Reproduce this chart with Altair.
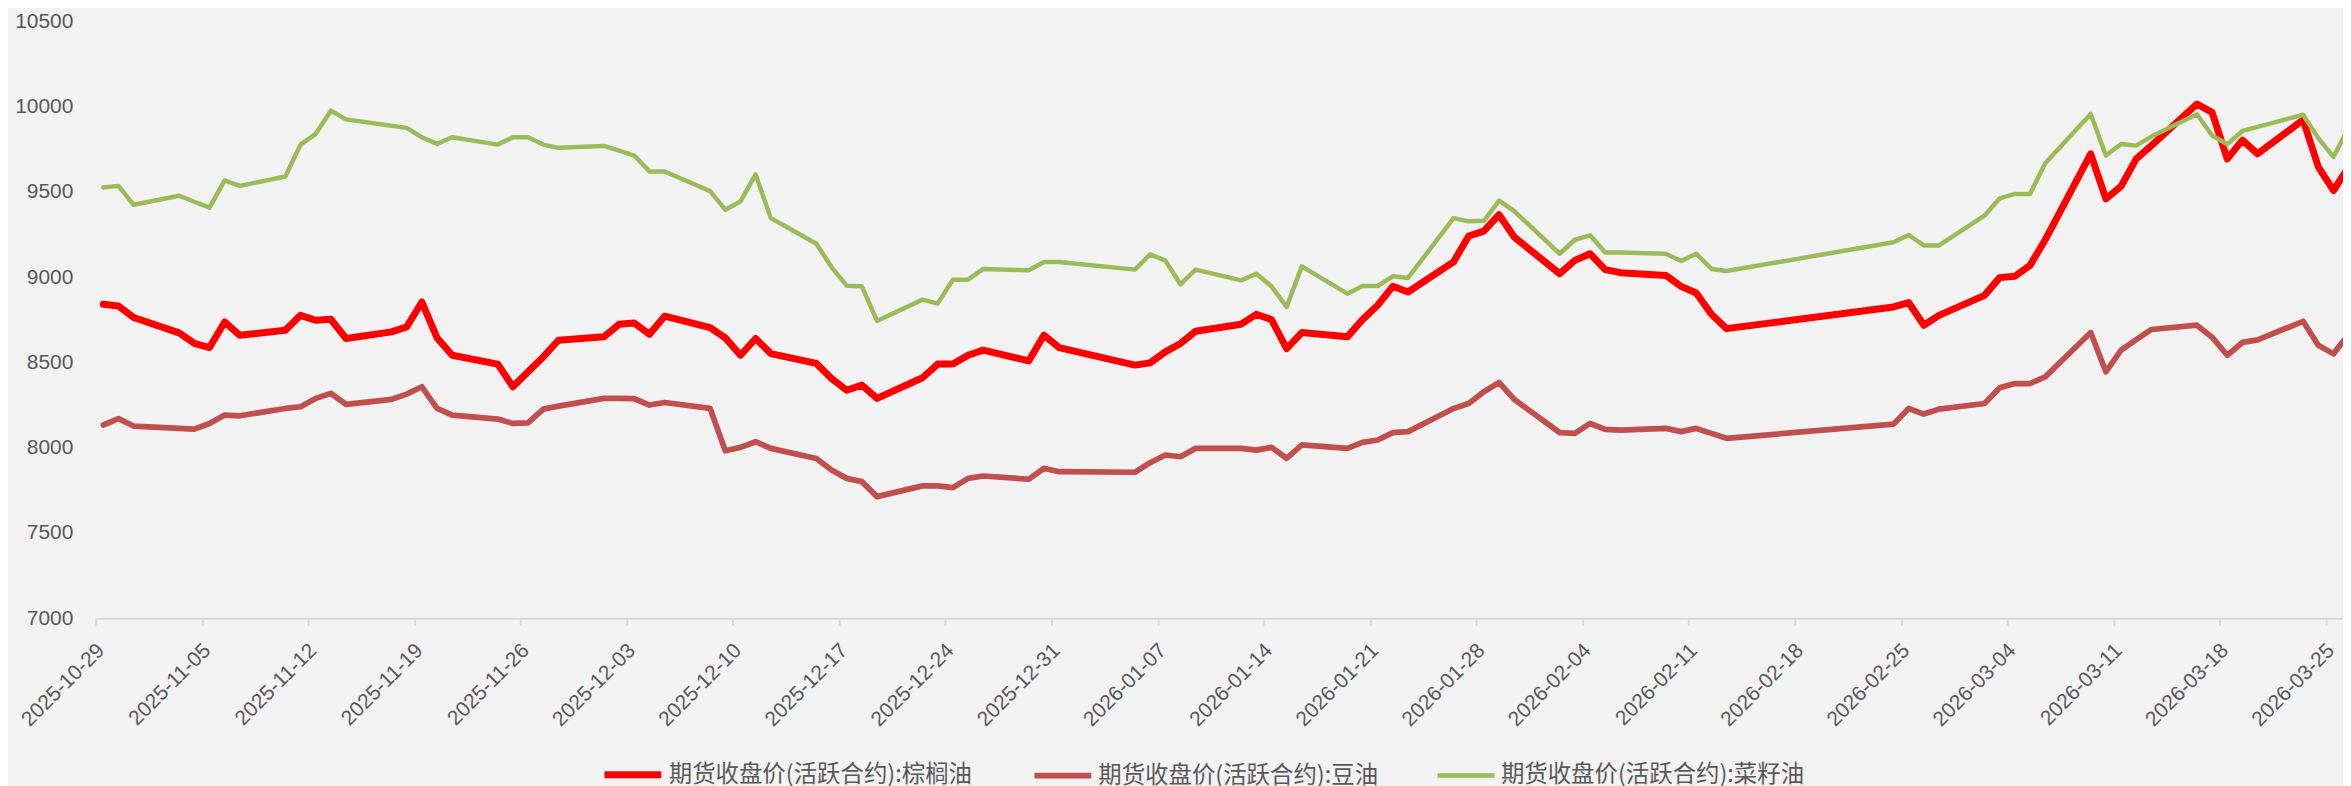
import altair as alt
import pandas as pd

# ---- data ----
dates = [
    "2025-10-29", "2025-10-30", "2025-10-31",
    "2025-11-03", "2025-11-04", "2025-11-05", "2025-11-06", "2025-11-07",
    "2025-11-10", "2025-11-11", "2025-11-12", "2025-11-13", "2025-11-14",
    "2025-11-17", "2025-11-18", "2025-11-19", "2025-11-20", "2025-11-21",
    "2025-11-24", "2025-11-25", "2025-11-26", "2025-11-27", "2025-11-28",
    "2025-12-01", "2025-12-02", "2025-12-03", "2025-12-04", "2025-12-05",
    "2025-12-08", "2025-12-09", "2025-12-10", "2025-12-11", "2025-12-12",
    "2025-12-15", "2025-12-16", "2025-12-17", "2025-12-18", "2025-12-19",
    "2025-12-22", "2025-12-23", "2025-12-24", "2025-12-25", "2025-12-26",
    "2025-12-29", "2025-12-30", "2025-12-31",
    "2026-01-05", "2026-01-06", "2026-01-07", "2026-01-08", "2026-01-09",
    "2026-01-12", "2026-01-13", "2026-01-14", "2026-01-15", "2026-01-16",
    "2026-01-19", "2026-01-20", "2026-01-21", "2026-01-22", "2026-01-23",
    "2026-01-26", "2026-01-27", "2026-01-28", "2026-01-29", "2026-01-30",
    "2026-02-02", "2026-02-03", "2026-02-04", "2026-02-05", "2026-02-06",
    "2026-02-09", "2026-02-10", "2026-02-11", "2026-02-12", "2026-02-13",
    "2026-02-24", "2026-02-25", "2026-02-26", "2026-02-27",
    "2026-03-02", "2026-03-03", "2026-03-04", "2026-03-05", "2026-03-06",
    "2026-03-09", "2026-03-10", "2026-03-11", "2026-03-12", "2026-03-13",
    "2026-03-16", "2026-03-17", "2026-03-18", "2026-03-19", "2026-03-20",
    "2026-03-23", "2026-03-24", "2026-03-25", "2026-03-26",
]

palm_oil = [
    8841, 8831, 8763,
    8673, 8611, 8587, 8737, 8659,
    8689, 8776, 8747, 8753, 8640,
    8679, 8708, 8854, 8644, 8542,
    8490, 8357, 8445, 8532, 8630,
    8650, 8724, 8731, 8665, 8771,
    8704, 8644, 8542, 8640, 8552,
    8494, 8406, 8337, 8367, 8289,
    8410, 8490, 8490, 8542, 8572,
    8509, 8659, 8587,
    8484, 8497, 8562, 8611, 8683,
    8724, 8782, 8751, 8581, 8675,
    8650, 8751, 8835, 8946, 8913,
    9089, 9241, 9270, 9366, 9235,
    9020, 9098, 9137, 9044, 9026,
    9010, 8946, 8907, 8782, 8698,
    8825, 8851, 8718, 8776,
    8893, 8997, 9005, 9069, 9219,
    9723, 9459, 9533, 9693, 9771,
    10015, 9966, 9693, 9803, 9723,
    9922, 9647, 9508, 9645,
]

soybean_oil = [
    8133, 8170, 8127,
    8113, 8109, 8142, 8191, 8187,
    8230, 8240, 8289, 8318, 8254,
    8283, 8314, 8357, 8230, 8191,
    8168, 8142, 8146, 8226, 8244,
    8289, 8289, 8287, 8250, 8265,
    8230, 7982, 8002, 8035, 7996,
    7937, 7869, 7820, 7801, 7713,
    7776, 7776, 7766, 7820, 7834,
    7815, 7879, 7859,
    7856, 7912, 7957, 7947, 7996,
    7996, 7986, 8002, 7937, 8016,
    7996, 8031, 8045, 8088, 8094,
    8230, 8259, 8328, 8382, 8283,
    8088, 8084, 8142, 8107, 8103,
    8113, 8094, 8113, 8084, 8055,
    8138, 8230, 8197, 8226,
    8259, 8351, 8376, 8376, 8415,
    8675, 8445, 8572, 8634, 8693,
    8718, 8648, 8542, 8617, 8632,
    8741, 8601, 8550, 8665,
]

rapeseed_oil = [
    9526, 9535, 9424,
    9477, 9442, 9407, 9567, 9535,
    9590, 9777, 9840, 9976, 9925,
    9888, 9875, 9820, 9781, 9820,
    9777, 9820, 9820, 9777, 9758,
    9769, 9742, 9713, 9619, 9619,
    9504, 9395, 9444, 9602, 9346,
    9196, 9059, 8950, 8946, 8743,
    8868, 8845, 8985, 8985, 9048,
    9040, 9089, 9089,
    9044, 9133, 9098, 8958, 9044,
    8981, 9020, 8946, 8825, 9063,
    8903, 8948, 8948, 9005, 8995,
    9346, 9327, 9330, 9449, 9387,
    9137, 9219, 9245, 9145, 9145,
    9137, 9094, 9137, 9048, 9036,
    9204, 9247, 9186, 9186,
    9360, 9462, 9488, 9488, 9668,
    9957, 9713, 9781, 9771, 9824,
    9955, 9830, 9779, 9857, 9881,
    9952, 9815, 9705, 9875,
]

series_names = [
    "期货收盘价(活跃合约):棕榈油",
    "期货收盘价(活跃合约):豆油",
    "期货收盘价(活跃合约):菜籽油",
]

tick_dates = [
    "2025-10-29", "2025-11-05", "2025-11-12", "2025-11-19", "2025-11-26",
    "2025-12-03", "2025-12-10", "2025-12-17", "2025-12-24", "2025-12-31",
    "2026-01-07", "2026-01-14", "2026-01-21", "2026-01-28", "2026-02-04",
    "2026-02-11", "2026-02-18", "2026-02-25", "2026-03-04", "2026-03-11",
    "2026-03-18", "2026-03-25",
]

y_ticks = [7000, 7500, 8000, 8500, 9000, 9500, 10000, 10500]

# ---- styling ----
colors = ["#FF0000", "#C0504D", "#9BBB59"]
widths = [7, 4.5, 4.5]
GRAY = "#595959"
BG = "#F2F2F2"


def to_dt(s, hours=0, minutes=0):
    y, m, d = (int(p) for p in s.split("-"))
    return alt.DateTime(year=y, month=m, date=d, hours=hours, minutes=minutes, utc=True)


rows = []
for name, vals in zip(series_names, [palm_oil, soybean_oil, rapeseed_oil]):
    for d, v in zip(dates, vals):
        # points sit in the middle of their day (date axis, between tick marks)
        rows.append({"date": d + "T12:00:00Z", "series": name, "value": v})
df = pd.DataFrame(rows)

legend = alt.Legend(
    title=None,
    orient="none",
    legendX=507,
    legendY=724,
    direction="horizontal",
    symbolType="stroke",
    symbolSize=3249,
    labelFont="Noto Sans CJK SC",
    labelFontSize=23.5,
    labelColor=GRAY,
    labelLimit=0,
    labelOffset=4,
    columnPadding=50,
    padding=0,
)

chart = (
    alt.Chart(df)
    .mark_line(clip=True, strokeJoin="round", strokeCap="round")
    .encode(
        x=alt.X(
            "date:T",
            title=None,
            scale=alt.Scale(
                type="utc",
                domain=[to_dt("2025-10-29"), to_dt("2026-03-26", 3, 7)],
            ),
            axis=alt.Axis(
                values=[to_dt(t) for t in tick_dates],
                format="%Y-%m-%d",
                labelAngle=-45,
                labelAlign="right",
                labelBaseline="middle",
                labelOffset=5,
                labelPadding=22,
                labelFont="Liberation Sans",
                labelFontSize=21,
                labelColor=GRAY,
                labelOverlap=False,
                labelFlush=False,
                labelBound=False,
                grid=False,
                domainColor="#D9D9D9",
                domainWidth=2,
                tickColor="#D9D9D9",
                tickWidth=2,
                tickSize=7,
            ),
        ),
        y=alt.Y(
            "value:Q",
            title=None,
            scale=alt.Scale(domain=[7000, 10500], nice=False, zero=False),
            axis=alt.Axis(
                values=y_ticks,
                format="d",
                grid=False,
                domain=False,
                ticks=False,
                tickSize=0,
                labelPadding=23,
                labelFont="Liberation Sans",
                labelFontSize=21,
                labelColor=GRAY,
            ),
        ),
        color=alt.Color(
            "series:N",
            scale=alt.Scale(domain=series_names, range=colors),
            legend=legend,
        ),
        strokeWidth=alt.StrokeWidth(
            "series:N",
            scale=alt.Scale(domain=series_names, range=widths),
            legend=legend,
        ),
        detail="series:N",
    )
    .properties(
        width=2255,
        height=599,
        autosize=alt.AutoSizeParams(type="none"),
        padding={"left": 88, "top": 12, "right": 0, "bottom": 167},
        background=BG,
    )
    .configure_view(strokeWidth=0)
)

chart.save("out.html", embed_options={"renderer": "svg", "actions": False})
